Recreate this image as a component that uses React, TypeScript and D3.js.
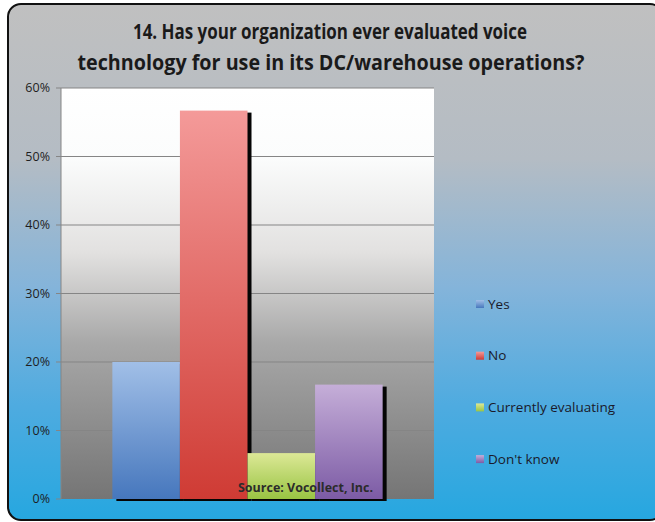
import React from 'react';
import * as d3 from 'd3';

const categories = ['Yes', 'No', 'Currently evaluating', "Don't know"];
const values = [20, 56.7, 6.7, 16.7];
const yTicks = [0, 10, 20, 30, 40, 50, 60];
const barColors = [
  ['#a1bfe7', '#4677bd'],
  ['#f49a99', '#cf3b34'],
  ['#dce896', '#99c443'],
  ['#c5aed8', '#7c5ba5'],
];

const width = 655;
const height = 522;
const plot = { left: 61, right: 434, top: 88, bottom: 499 };

function App() {
  const x = d3.scaleBand<string>()
    .domain(categories)
    .range([plot.left, plot.right])
    .paddingInner(0)
    .paddingOuter(0.76);
  const y = d3.scaleLinear().domain([0, 60]).range([plot.bottom, plot.top]);

  return (
    <svg width={width} height={height} style={{ position: 'absolute', left: 0, top: 0 }}
      fontFamily="'Open Sans', sans-serif">
      <defs>
        <linearGradient id="bg" x1="0" y1="0" x2="0" y2="1">
          <stop offset="0" stopColor="#c0c0c0" />
          <stop offset="0.3" stopColor="#b4bcc4" />
          <stop offset="0.55" stopColor="#84b4da" />
          <stop offset="0.78" stopColor="#4eabe0" />
          <stop offset="1" stopColor="#26a7e0" />
        </linearGradient>
        <linearGradient id="plotbg" x1="0" y1="0" x2="0" y2="1">
          <stop offset="0" stopColor="#ffffff" />
          <stop offset="0.17" stopColor="#fbfcfc" />
          <stop offset="0.4" stopColor="#e2e1e0" />
          <stop offset="0.62" stopColor="#a8a8a8" />
          <stop offset="1" stopColor="#757575" />
        </linearGradient>
        {barColors.map((c, i) => (
          <linearGradient key={i} id={`bar${i}`} x1="0" y1="0" x2="0" y2="1">
            <stop offset="0" stopColor={c[0]} />
            <stop offset="1" stopColor={c[1]} />
          </linearGradient>
        ))}
      </defs>
      <rect x={8} y={4} width={655} height={516} rx={13} fill="url(#bg)" stroke="#111" strokeWidth={2} />

      <g fontWeight="bold" fontSize={22} fill="#1a1a1a" textAnchor="middle">
        <text x={330} y={39} textLength={394} lengthAdjust="spacingAndGlyphs">
          14. Has your organization ever evaluated voice
        </text>
        <text x={331} y={70} textLength={507} lengthAdjust="spacingAndGlyphs">
          technology for use in its DC/warehouse operations?
        </text>
      </g>

      <rect x={plot.left} y={plot.top} width={plot.right - plot.left} height={plot.bottom - plot.top}
        fill="url(#plotbg)" />
      {yTicks.map(t => (
        <g key={t}>
          {t > 0 && (
            <line x1={plot.left} x2={plot.right} y1={y(t)} y2={y(t)} stroke="#858585" strokeWidth={1} />
          )}
          <line x1={plot.left - 5} x2={plot.left} y1={y(t)} y2={y(t)} stroke="#858585" />
          <text x={50} y={y(t)} dy="0.35em" textAnchor="end" fontSize={12.5} fill="#1e1e1e">{t}%</text>
        </g>
      ))}
      <line x1={plot.left} x2={plot.left} y1={plot.top} y2={plot.bottom} stroke="#858585" />

      {categories.map((c, i) => (
        <rect key={'s' + c} x={(x(c) ?? 0) + 4} y={y(values[i]) + 2} width={x.bandwidth()}
          height={plot.bottom - y(values[i])} fill="#050505" />
      ))}
      {categories.map((c, i) => (
        <rect key={c} x={x(c)} y={y(values[i])} width={x.bandwidth()}
          height={plot.bottom - y(values[i])} fill={`url(#bar${i})`} />
      ))}

      <text x={238} y={492} fontSize={12.5} fontWeight="bold" fill="#2b2b2b" textLength={135}
        lengthAdjust="spacingAndGlyphs">Source: Vocollect, Inc.</text>

      {categories.map((c, i) => {
        const ly = 304 + i * 51.7;
        return (
          <g key={'l' + c}>
            <rect x={476} y={ly - 4} width={8} height={8} fill={`url(#bar${i})`} />
            <text x={488} y={ly} dy="0.35em" fontSize={13.5} fill="#1a1a2a">{c}</text>
          </g>
        );
      })}
    </svg>
  );
}

export default App;
